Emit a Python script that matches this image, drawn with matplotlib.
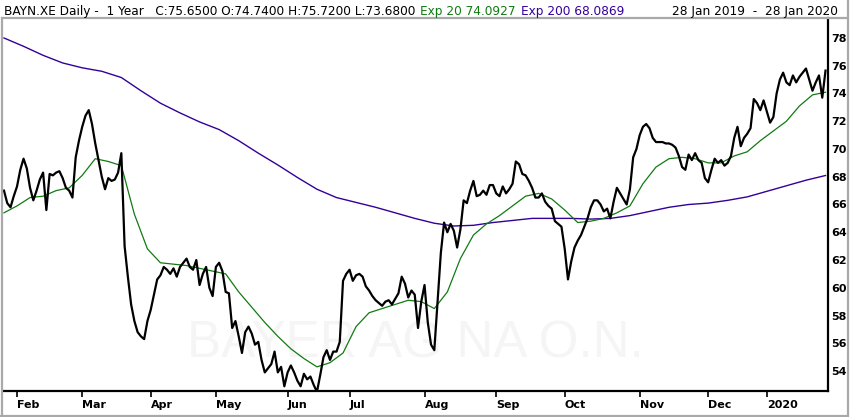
import numpy as np
import pandas as pd
import matplotlib
matplotlib.use("Agg")
import matplotlib.pyplot as plt
from matplotlib.lines import Line2D

# daily closes BAYN.XE, 28 Jan 2019 .. 28 Jan 2020
closes = [
    67.0, 66.1, 65.8, 66.6, 67.3, 68.5, 69.3, 68.6, 67.2, 66.3,
    67.0, 67.8, 68.3, 65.6, 68.2, 68.1, 68.3, 68.4, 67.9, 67.2,
    67.0, 66.5, 69.4, 70.6, 71.6, 72.4, 72.8, 71.8, 70.4, 69.2,
    68.0, 67.1, 67.9, 67.7, 67.8, 68.3, 69.7, 63.0, 60.8, 58.8,
    57.6, 56.8, 56.5, 56.3, 57.6, 58.4, 59.5, 60.6, 60.9, 61.5,
    61.3, 61.0, 61.4, 60.8, 61.5, 61.8, 62.1, 61.5, 61.3, 62.0,
    60.2, 61.0, 61.5, 60.0, 59.4, 61.5, 61.8, 61.2, 59.7, 59.6,
    57.1, 57.6, 56.5, 55.3, 56.8, 57.2, 56.7, 55.9, 56.1, 54.8,
    53.9, 54.2, 54.5, 55.4, 53.9, 54.3, 52.9, 53.9, 54.4, 53.9,
    53.3, 52.9, 53.8, 53.4, 53.6, 53.0, 52.5, 53.7, 55.0, 55.5,
    54.8, 55.4, 55.4, 56.1, 60.5, 61.0, 61.3, 60.5, 60.9, 61.0,
    60.8, 60.1, 59.8, 59.4, 59.1, 58.9, 58.7, 59.0, 59.1, 58.8,
    59.2, 59.6, 60.8, 60.3, 59.3, 59.8, 59.5, 57.1, 59.0, 60.2,
    57.5, 55.9, 55.5, 59.0, 62.5, 64.7, 64.0, 64.6, 64.1, 62.9,
    64.2, 66.3, 66.1, 67.0, 67.7, 66.6, 66.7, 67.0, 66.7, 67.4,
    67.4, 66.8, 66.6, 67.3, 66.8, 67.1, 67.5, 69.1, 68.9, 68.2,
    68.1, 67.7, 67.2, 66.5, 66.5, 66.8, 66.2, 65.9, 65.7, 64.8,
    64.6, 64.4, 62.8, 60.6, 61.9, 62.9, 63.4, 63.8, 64.4, 65.0,
    65.8, 66.3, 66.3, 66.0, 65.5, 65.7, 65.0, 66.2, 67.2, 66.8,
    66.4, 66.0, 67.1, 69.4, 70.0, 71.0, 71.6, 71.8, 71.5, 70.8,
    70.5, 70.5, 70.5, 70.4, 70.4, 70.3, 70.1, 69.5, 68.7, 68.5,
    69.6, 69.2, 69.7, 69.2, 69.0, 67.9, 67.6, 68.5, 69.3, 69.0,
    69.2, 68.8, 69.0, 69.5, 70.8, 71.6, 70.2, 70.8, 71.1, 71.5,
    73.6, 73.3, 72.8, 73.5, 72.7, 71.9, 72.3, 74.0, 75.0, 75.5,
    74.8, 74.6, 75.3, 74.8, 75.2, 75.5, 75.8, 75.0, 74.2, 74.8,
    75.3, 73.7, 75.65,
]

# Exp 20 read every 4th trading day, Exp 200 every 6th
ema20_step = 4
ema20 = [
    65.4, 65.9, 66.5, 66.6, 67.0, 67.2, 68.1, 69.3, 69.1, 68.8,
    65.3, 62.8, 61.8, 61.7, 61.6, 61.4, 61.2, 61.0, 59.7, 58.6,
    57.5, 56.5, 55.6, 54.9, 54.3, 54.6, 55.3, 57.2, 58.2, 58.5,
    58.8, 59.1, 59.0, 58.5, 59.7, 62.1, 63.8, 64.6, 65.2, 65.9,
    66.6, 66.8, 66.4, 65.6, 64.7, 64.8, 65.0, 65.4, 65.9, 67.5,
    68.7, 69.3, 69.4, 69.3, 69.0, 69.0, 69.5, 69.8, 70.6, 71.3,
    72.0, 73.1, 73.9, 74.09,
]
ema200_step = 6
ema200 = [
    78.0, 77.4, 76.75, 76.2, 75.85, 75.6, 75.15, 74.2, 73.3, 72.6,
    71.95, 71.4, 70.6, 69.7, 68.85, 67.95, 67.1, 66.5, 66.15, 65.8,
    65.4, 65.0, 64.65, 64.45, 64.5, 64.7, 64.85, 65.0, 65.0, 65.0,
    64.95, 65.0, 65.2, 65.5, 65.8, 66.0, 66.1, 66.3, 66.55, 66.95,
    67.35, 67.75, 68.09,
]

holidays = ["2019-04-19", "2019-04-22", "2019-05-01", "2019-06-10",
            "2019-12-24", "2019-12-25", "2019-12-26", "2019-12-31", "2020-01-01"]
dates = pd.bdate_range("2019-01-28", "2020-01-28")
dates = dates[~dates.isin(pd.to_datetime(holidays))]

month_labels = ["Feb", "Mar", "Apr", "May", "Jun", "Jul", "Aug",
                "Sep", "Oct", "Nov", "Dec", "2020"]
y_ticks = [54, 56, 58, 60, 62, 64, 66, 68, 70, 72, 74, 76, 78]

header = "BAYN.XE Daily -  1 Year   C:75.6500 O:74.7400 H:75.7200 L:73.6800"
hdr_ema20 = "Exp 20 74.0927"
hdr_ema200 = "Exp 200 68.0869"
hdr_range = "28 Jan 2019  -  28 Jan 2020"
watermark = "BAYER AG NA O.N."

GREEN = "#127a12"
PURPLE = "#330099"
W, H = 850, 417

idx = np.arange(len(closes))
months = pd.Series(dates.to_period("M"))
month_pos = np.where(months.ne(months.shift()).values)[0][1:]

fig = plt.figure(figsize=(W / 100, H / 100), dpi=100)
ax = fig.add_axes([3 / W, (H - 391) / H, 825 / W, 373 / H])

ax.text(415 / W, 1 - 343.5 / H, watermark, ha="center", va="center",
        fontsize=36.8, family="Liberation Sans", color="#f5f5f5",
        transform=fig.transFigure, zorder=0.5)

ax.plot(np.arange(len(ema200)) * ema200_step, ema200, color=PURPLE, lw=1.0)
ax.plot(np.arange(len(ema20)) * ema20_step, ema20, color=GREEN, lw=0.9)
ax.plot(idx, closes, color="black", lw=1.6)

ax.set_xlim(-0.3, 252.76)
ax.set_ylim(52.56, 79.44)

for s in ["top", "left"]:
    ax.spines[s].set_visible(False)
for s in ["right", "bottom"]:
    ax.spines[s].set_linewidth(1.6)

ax.yaxis.tick_right()
ax.set_yticks(y_ticks)
ax.set_yticklabels([str(v) for v in y_ticks], fontsize=8, fontweight="bold")
ax.tick_params(axis="y", length=0, pad=2.5)

ax.set_xticks(month_pos)
ax.set_xticklabels(month_labels, fontsize=8, fontweight="bold")
ax.tick_params(axis="x", length=4, width=1.2, pad=2.5)
for lbl in ax.get_xticklabels():
    lbl.set_horizontalalignment("left")

# header line with coloured parts
fig.canvas.draw()
r = fig.canvas.get_renderer()
ty = 1 - 11.3 / H
x = 4
for s, c in [(header, "black"), (hdr_ema20, GREEN), (hdr_ema200, PURPLE)]:
    t = fig.text(x / W, ty, s, color=c, fontsize=8.7, va="center", ha="left")
    bb = t.get_window_extent(r)
    x = bb.x1 + 5
fig.text(838 / W, ty, hdr_range, color="black", fontsize=8.7, va="center", ha="right")

# grey panel frame
def px_line(x0, y0, x1, y1):
    fig.add_artist(Line2D([x0 / W, x1 / W], [1 - y0 / H, 1 - y1 / H],
                          transform=fig.transFigure, color="#a9a9a9", lw=1.6))

px_line(1.5, 18, 847, 18)
px_line(1.5, 18, 1.5, 415)
px_line(847.5, 0, 847.5, 415)
px_line(0, 415.5, 848, 415.5)

fig.savefig("out.png", dpi=100)
